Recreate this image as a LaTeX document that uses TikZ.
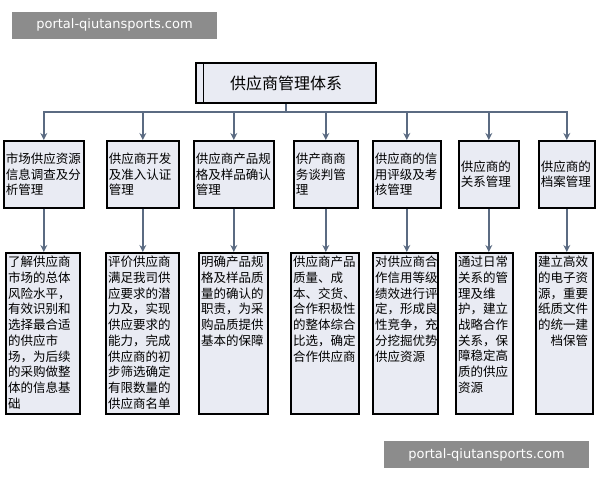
\documentclass[tikz,border=0pt]{standalone}
\usepackage{fontspec}
\newfontfamily\cjk{Noto Sans CJK SC}
\definecolor{boxfill}{HTML}{E9EBF3}
\definecolor{linkcol}{HTML}{5B6B82}
\definecolor{markgray}{HTML}{8C8C8C}
\tikzset{
  topbox/.style={draw=black, line width=1.6pt, fill=boxfill, anchor=north west, inner sep=2pt,
    align=left, font=\cjk\fontsize{12.5}{15.5}\selectfont},
  botbox/.style={draw=black, line width=1.6pt, fill=boxfill, anchor=north west},
  bottext/.style={anchor=north west, inner sep=0pt, align=left, font=\cjk\fontsize{12.5}{15.7}\selectfont},
  link/.style={draw=linkcol, line width=1.4pt},
  arr/.style={link, -{Stealth[length=7pt,width=7pt]}},
  wmark/.style={fill=markgray, text=white, font=\fontspec{DejaVu Sans}\fontsize{13}{15}\selectfont,
    minimum width=205pt, minimum height=27pt, inner sep=0pt}
}
\usetikzlibrary{arrows.meta,positioning}
\begin{document}
\begin{tikzpicture}[x=1pt,y=-1pt]
\useasboundingbox (0,0) rectangle (600,480);

% title
\node[draw=black, line width=1.6pt, fill=boxfill, minimum width=180pt, minimum height=40pt,
  font=\cjk\fontsize{16}{18}\selectfont] (title) at (286,83) {供应商管理体系};
\draw[line width=1.2pt] ([xshift=8pt]title.north west) -- ([xshift=8pt]title.south west);
\coordinate (bus) at (286,112);
\draw[link] (title.south) -- (bus);

% top row
\foreach \n/\x/\w/\t in {
  1/3/80/{市场供应资源\\信息调查及分\\析管理},
  2/106/72/{供应商开发\\及准入认证\\管理},
  3/193/80/{供应商产品规\\格及样品确认\\管理},
  4/293/64/{供产商商\\务谈判管\\理},
  5/372/68/{供应商的信\\用评级及考\\核管理},
  6/458/60/{供应商的\\关系管理},
  7/538/56/{供应商的\\档案管理}}{
  \node[topbox, minimum width=\w pt, text width={(\w-4)*1pt}, minimum height=67pt] (top\n) at (\x,140) {\t};
  \draw[arr] (bus) -| (top\n.north);
}

% bottom row
\foreach \n/\x/\w/\t in {
  1/5/74/{了解供应商\\市场的总体\\风险水平，\\有效识别和\\选择最合适\\的供应市\\场，为后续\\的采购做整\\体的信息基\\础},
  2/105/73/{评价供应商\\满足我司供\\应要求的潜\\力及，实现\\供应要求的\\能力，完成\\供应商的初\\步筛选确定\\有限数量的\\供应商名单},
  3/198/69/{明确产品规\\格及样品质\\量的确认的\\职责，为采\\购品质提供\\基本的保障},
  4/290/68/{供应商产品\\质量、成\\本、交货、\\合作积极性\\的整体综合\\比选，确定\\合作供应商},
  5/372/65/{对供应商合\\作信用等级\\绩效进行评\\定，形成良\\性竞争，充\\分挖掘优势\\供应资源},
  6/455/57/{通过日常\\关系的管\\理及维\\护，建立\\战略合作\\关系，保\\障稳定高\\质的供应\\资源},
  7/535/57/{建立高效\\的电子资\\源，重要\\纸质文件\\的统一建\\　档保管}}{
  \node[botbox, minimum width=\w pt, minimum height=161pt] (bot\n) at (\x,252) {};
  \node[bottext] (txt\n) at ([xshift=3pt,yshift=-4pt]bot\n.north west) {\t};
  \draw[arr] (top\n.south) -- (top\n.south |- bot\n.north);
}

% watermarks
\node[wmark] (markA) at (114.5,25) {portal-qiutansports.com};
\node[wmark] (markB) at (486.5,454.5) {portal-qiutansports.com};
\end{tikzpicture}
\end{document}
